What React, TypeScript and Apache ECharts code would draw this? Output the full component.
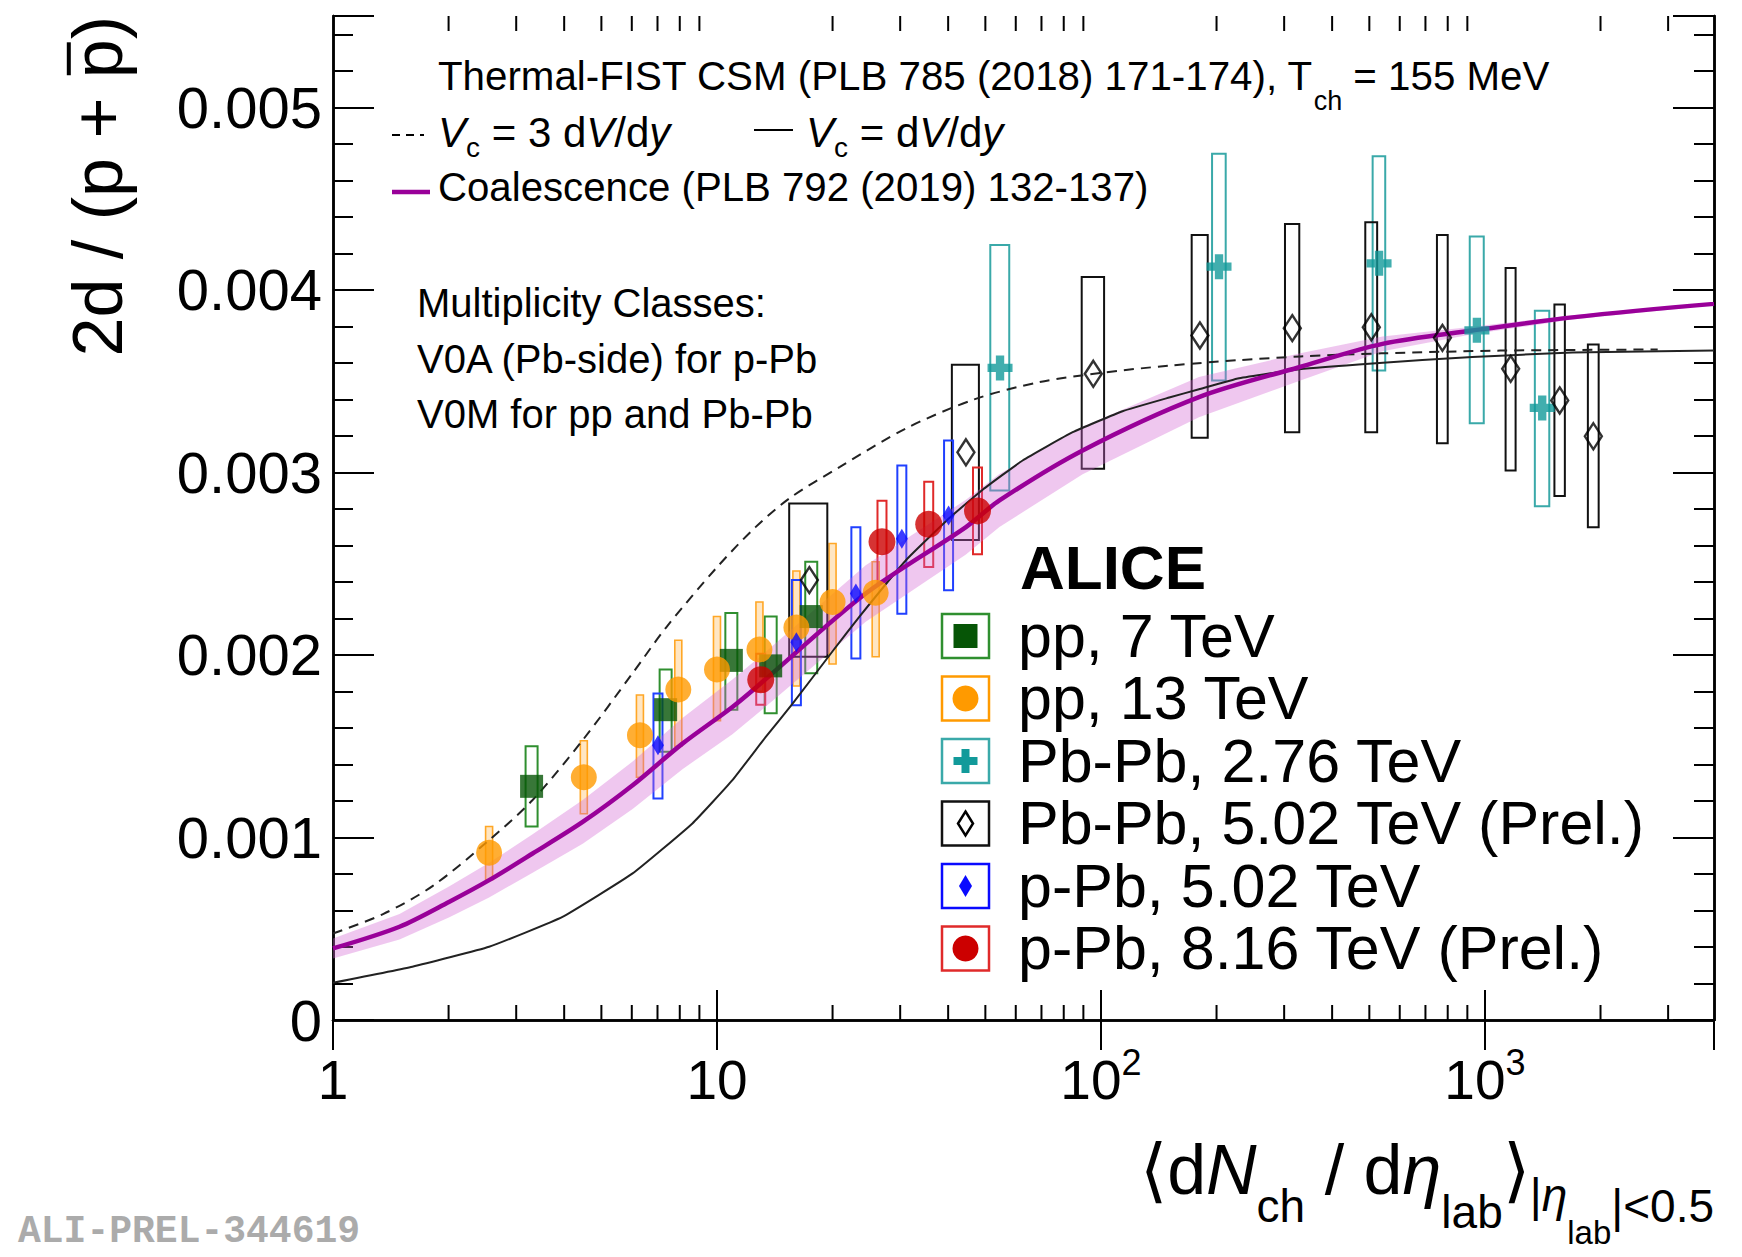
import React, { useEffect, useRef } from 'react';
import * as echarts from 'echarts';

const FONT = 'Liberation Sans, Arial, Helvetica, sans-serif';
const MONO = 'Liberation Mono, Courier New, monospace';

// ---------------- axis ticks ----------------
const xMinorTicks = [2, 3, 4, 5, 6, 7, 8, 9, 20, 30, 40, 50, 60, 70, 80, 90, 200, 300, 400, 500, 600, 700, 800, 900, 2000, 3000];

// ---------------- data: pp 7 TeV ----------------
const pp7X = [3.29, 7.35, 10.9, 13.8, 17.6];
const pp7Y = [0.00128, 0.0017, 0.00197, 0.00194, 0.00221];
const pp7Lo = [0.00106, 0.00147, 0.0017, 0.00168, 0.0019];
const pp7Hi = [0.0015, 0.00192, 0.00223, 0.00221, 0.00251];

// ---------------- data: pp 13 TeV ----------------
const pp13X = [2.55, 4.5, 6.3, 7.93, 10.0, 12.9, 16.1, 20.0, 25.9];
const pp13Y = [0.000916, 0.00133, 0.00156, 0.00181, 0.00192, 0.00203, 0.00215, 0.00229, 0.00234];
const pp13Lo = [0.000768, 0.00113, 0.00133, 0.0015, 0.00164, 0.0018, 0.00183, 0.00195, 0.00199];
const pp13Hi = [0.00106, 0.00153, 0.00178, 0.00208, 0.00221, 0.00229, 0.00246, 0.00261, 0.00251];

// ---------------- data: Pb-Pb 2.76 TeV ----------------
const pbpb276X = [54.6, 203, 530, 953, 1410];
const pbpb276XErr = [3.1, 8.3, 20, 40, 61];
const pbpb276Y = [0.003572, 0.004127, 0.004145, 0.003778, 0.003353];
const pbpb276Lo = [0.002901, 0.003503, 0.003558, 0.003269, 0.002815];
const pbpb276Hi = [0.004246, 0.004746, 0.004732, 0.004292, 0.003886];

// ---------------- data: Pb-Pb 5.02 TeV (Prel.) ----------------
const pbpb502X = [17.4, 44.5, 95.5, 181, 315, 506, 775, 1167, 1566, 1916];
const pbpb502XErr = [1.98, 3.6, 6.4, 8.7, 13.5, 18, 25, 35, 49, 62];
const pbpb502Y = [0.00241, 0.00311, 0.00354, 0.00375, 0.00379, 0.003795, 0.003737, 0.003567, 0.003394, 0.003198];
const pbpb502Lo = [0.00199, 0.00263, 0.00302, 0.00319, 0.00322, 0.00322, 0.00316, 0.00301, 0.00287, 0.0027];
const pbpb502Hi = [0.00283, 0.00359, 0.00407, 0.0043, 0.00436, 0.00437, 0.0043, 0.00412, 0.00392, 0.0037];

// ---------------- data: p-Pb 5.02 TeV ----------------
const ppb502X = [7.02, 16.1, 23.0, 30.3, 40.1];
const ppb502Y = [0.001505, 0.00207, 0.002336, 0.002636, 0.002764];
const ppb502Lo = [0.001213, 0.001724, 0.00198, 0.002226, 0.002354];
const ppb502Hi = [0.001788, 0.00241, 0.0027, 0.003038, 0.003175];

// ---------------- data: p-Pb 8.16 TeV (Prel.) ----------------
const ppb816X = [13.0, 26.9, 35.6, 47.7];
const ppb816Y = [0.001864, 0.00262, 0.002716, 0.002789];
const ppb816Lo = [0.001727, 0.002398, 0.002482, 0.002552];
const ppb816Hi = [0.002007, 0.002845, 0.002948, 0.003027];

// ---------------- models ----------------
const csmSolidX = [1, 1.61, 2.55, 3.96, 6.03, 8.63, 10.97, 13.4, 15.7, 20.0, 23.5, 31.1, 40.3, 49.2, 62.5, 84.4, 113.8, 150.6, 180, 229, 328, 509, 927, 1689, 3950];
const csmSolidY = [0.000204, 0.000292, 0.000401, 0.000565, 0.000803, 0.001077, 0.001314, 0.001551, 0.00173, 0.00202, 0.00221, 0.00252, 0.00275, 0.002905, 0.003065, 0.00322, 0.003335, 0.00341, 0.003455, 0.003515, 0.003565, 0.003597, 0.003632, 0.003656, 0.003667];

const csmDashX = [1, 1.35, 1.82, 2.55, 3.31, 4.47, 6.03, 7.37, 10, 12.6, 15.5, 20.9, 31, 46.8, 69, 100, 151, 229, 331, 537, 1096, 2818];
const csmDashY = [0.000474, 0.00058, 0.000735, 0.000985, 0.001205, 0.001533, 0.0019, 0.00215, 0.00248, 0.0027, 0.00286, 0.00303, 0.00324, 0.0034, 0.003494, 0.003545, 0.003585, 0.003615, 0.003635, 0.003652, 0.003667, 0.003673];

const coalX = [1, 1.49, 2.01, 2.55, 3.31, 4.47, 6.03, 8.13, 10.97, 13.1, 24.4, 44.5, 54.4, 89.6, 180, 328, 541, 927, 1689, 3950];
const coalY = [0.000392, 0.000511, 0.000648, 0.000766, 0.000912, 0.001085, 0.001286, 0.001514, 0.001715, 0.00185, 0.002336, 0.0027, 0.002846, 0.00312, 0.003412, 0.003576, 0.003704, 0.003777, 0.003849, 0.003923];
const coalLow = [0.000337, 0.000441, 0.000563, 0.000671, 0.000807, 0.000965, 0.001156, 0.001374, 0.001565, 0.0017, 0.002181, 0.00255, 0.002701, 0.00299, 0.003302, 0.003501, 0.003664, 0.003757, 0.003837, 0.003915];
const coalHigh = [0.000447, 0.000581, 0.000733, 0.000861, 0.001017, 0.001205, 0.001416, 0.001654, 0.001865, 0.002, 0.002491, 0.00285, 0.002991, 0.00325, 0.003522, 0.003651, 0.003744, 0.003797, 0.003861, 0.003931];

// ---------------- labels ----------------
const legendLabels = ['pp, 7 TeV', 'pp, 13 TeV', 'Pb-Pb, 2.76 TeV', 'Pb-Pb, 5.02 TeV (Prel.)', 'p-Pb, 5.02 TeV', 'p-Pb, 8.16 TeV (Prel.)'];
const classLines = ['Multiplicity Classes:', 'V0A (Pb-side) for p-Pb', 'V0M for pp and Pb-Pb'];

// ---------------- text helpers ----------------
let measureCtx: CanvasRenderingContext2D | null = null;
function fontStr(size: number, italic?: boolean, bold?: boolean, family: string = FONT) {
  return `${italic ? 'italic ' : ''}${bold ? 'bold ' : ''}${size}px ${family}`;
}
function tw(text: string, size: number, italic?: boolean, bold?: boolean, family: string = FONT) {
  if (!measureCtx) measureCtx = document.createElement('canvas').getContext('2d');
  measureCtx!.font = fontStr(size, italic, bold, family);
  return measureCtx!.measureText(text).width;
}
type Piece = { t: string; s: number; it?: boolean; b?: boolean; dy?: number };
function textEl(x: number, baseline: number, text: string, size: number, italic?: boolean, bold?: boolean, family: string = FONT, fill = '#000', align = 'left') {
  return {
    type: 'text', x, y: baseline - 0.35 * size, silent: true, z: 100,
    style: { text, font: fontStr(size, italic, bold, family), fill, textAlign: align, textVerticalAlign: 'middle', align, verticalAlign: 'middle' },
  };
}
function pieces(ps: Piece[], x: number, base: number, align: 'left' | 'right' = 'left') {
  const widths = ps.map((p) => tw(p.t, p.s, p.it, p.b));
  const total = widths.reduce((a, b) => a + b, 0);
  let cx = align === 'left' ? x : x - total;
  const out: any[] = [];
  ps.forEach((p, i) => {
    out.push(textEl(cx, base + (p.dy || 0), p.t, p.s, p.it, p.b));
    cx += widths[i];
  });
  return out;
}

// ---------------- series builders ----------------
function boxSeries(rows: number[][], stroke: string, fill: string, lw: number, pxW: number | null) {
  return {
    type: 'custom', coordinateSystem: 'cartesian2d', xAxisIndex: 0, yAxisIndex: 0, z: 2, silent: true,
    encode: { x: 0, y: 1 },
    data: rows,
    renderItem: (params: any, api: any) => {
      const x = api.value(0), lo = api.value(2), hi = api.value(3);
      const top = api.coord([x, hi]);
      const bot = api.coord([x, lo]);
      let x0: number, x1: number;
      if (pxW == null) {
        const xe = api.value(4);
        x0 = api.coord([x - xe, hi])[0];
        x1 = api.coord([x + xe, hi])[0];
      } else {
        x0 = top[0] - pxW / 2;
        x1 = top[0] + pxW / 2;
      }
      return { type: 'rect', shape: { x: x0, y: top[1], width: x1 - x0, height: bot[1] - top[1] }, style: { fill, stroke, lineWidth: lw } };
    },
  };
}
function markerSeries(xs: number[], ys: number[], symbol: string, size: any, itemStyle: any, z = 10) {
  return {
    type: 'scatter', xAxisIndex: 0, yAxisIndex: 0, z, silent: true,
    data: xs.map((x, i) => [x, ys[i]]),
    symbol, symbolSize: size, itemStyle,
  };
}
const CROSS = 'path://M3,0H6V3H9V6H6V9H3V6H0V3H3Z';

const GREEN_M = '#065506', GREEN_B = '#2f8f2f';
const ORANGE = '#ff9a00';
const TEAL_M = '#129a9a', TEAL_B = '#3aa9a9';
const BLUE = '#0a0aff';
const RED_M = '#cc0000', RED_B = '#e02a2a';
const PURPLE = '#990099';

function buildOption() {
  const yTitleSize = 70;
  const yTitleText = '2d / (p + p)';
  const wParen = tw(')', yTitleSize);
  const wP = tw('p', yTitleSize);

  const graphic: any[] = [];

  // y-axis title (rotated)
  graphic.push({
    type: 'group', x: 122, y: 16, rotation: Math.PI / 2, silent: true,
    children: [
      { type: 'text', x: 0, y: -0.35 * yTitleSize, style: { text: yTitleText, font: fontStr(yTitleSize), fill: '#000', textAlign: 'right', align: 'right', textVerticalAlign: 'middle', verticalAlign: 'middle' } },
      { type: 'line', shape: { x1: -wParen - wP + 3, y1: -0.76 * yTitleSize, x2: -wParen - 3, y2: -0.76 * yTitleSize }, style: { stroke: '#000', lineWidth: 4 } },
    ],
  });

  // x-axis title
  graphic.push(...pieces([
    { t: '\u27E8d', s: 70 },
    { t: 'N', s: 70, it: true },
    { t: 'ch', s: 46, dy: 28 },
    { t: ' / d', s: 70 },
    { t: '\u03B7', s: 70, it: true },
    { t: 'lab', s: 46, dy: 34 },
    { t: '\u27E9', s: 70 },
    { t: '|', s: 46, dy: 17 },
    { t: '\u03B7', s: 46, it: true, dy: 17 },
    { t: 'lab', s: 33, dy: 50 },
    { t: '|<0.5', s: 46, dy: 28 },
  ], 1714, 1194, 'right'));

  // top-left model legend
  graphic.push(...pieces([
    { t: 'Thermal-FIST CSM (PLB 785 (2018) 171-174), T', s: 40.3 },
    { t: 'ch', s: 27, dy: 19 },
    { t: ' = 155 MeV', s: 40.3 },
  ], 438, 91));
  graphic.push({ type: 'line', silent: true, shape: { x1: 392, y1: 135, x2: 424, y2: 135 }, style: { stroke: '#000', lineWidth: 2, lineDash: [8, 6] } });
  graphic.push(...pieces([
    { t: 'V', s: 42, it: true },
    { t: 'c', s: 28, dy: 10 },
    { t: ' = 3 d', s: 42 },
    { t: 'V', s: 42, it: true },
    { t: '/d', s: 42 },
    { t: 'y', s: 42, it: true },
  ], 438, 147));
  graphic.push({ type: 'line', silent: true, shape: { x1: 754, y1: 130, x2: 793, y2: 130 }, style: { stroke: '#000', lineWidth: 2 } });
  graphic.push(...pieces([
    { t: 'V', s: 42, it: true },
    { t: 'c', s: 28, dy: 10 },
    { t: ' = d', s: 42 },
    { t: 'V', s: 42, it: true },
    { t: '/d', s: 42 },
    { t: 'y', s: 42, it: true },
  ], 806, 147));
  graphic.push({ type: 'line', silent: true, shape: { x1: 392, y1: 192, x2: 430, y2: 192 }, style: { stroke: PURPLE, lineWidth: 4.5 } });
  graphic.push(textEl(438, 202, 'Coalescence (PLB 792 (2019) 132-137)', 40.2));

  // multiplicity classes
  classLines.forEach((t, i) => graphic.push(textEl(417, 317 + i * 55.7, t, 40)));

  // ALICE legend
  graphic.push(textEl(1020, 589, 'ALICE', 62, false, true));
  const rowY = [636, 698.5, 761, 823.5, 886, 948.5];
  const cx = 965.5;
  const boxColors = [GREEN_B, ORANGE, TEAL_B, '#111', BLUE, RED_B];
  rowY.forEach((cy, i) => {
    graphic.push({ type: 'rect', silent: true, z: 100, shape: { x: cx - 23.5, y: cy - 22, width: 47, height: 44 }, style: { fill: 'none', stroke: boxColors[i], lineWidth: 2.5 } });
    let m: any;
    if (i === 0) m = { type: 'rect', shape: { x: cx - 12, y: cy - 12, width: 24, height: 24 }, style: { fill: GREEN_M } };
    else if (i === 1) m = { type: 'circle', shape: { cx, cy, r: 13 }, style: { fill: ORANGE } };
    else if (i === 2) m = { type: 'polygon', shape: { points: [[cx - 4, cy - 12], [cx + 4, cy - 12], [cx + 4, cy - 4], [cx + 12, cy - 4], [cx + 12, cy + 4], [cx + 4, cy + 4], [cx + 4, cy + 12], [cx - 4, cy + 12], [cx - 4, cy + 4], [cx - 12, cy + 4], [cx - 12, cy - 4], [cx - 4, cy - 4]] }, style: { fill: TEAL_M } };
    else if (i === 3) m = { type: 'polygon', shape: { points: [[cx, cy - 12], [cx + 7.5, cy], [cx, cy + 12], [cx - 7.5, cy]] }, style: { fill: 'none', stroke: '#000', lineWidth: 2.5 } };
    else if (i === 4) m = { type: 'polygon', shape: { points: [[cx, cy - 11], [cx + 6.5, cy], [cx, cy + 11], [cx - 6.5, cy]] }, style: { fill: BLUE } };
    else m = { type: 'circle', shape: { cx, cy, r: 13 }, style: { fill: RED_M } };
    m.silent = true; m.z = 101;
    graphic.push(m);
    graphic.push(textEl(1018, cy + 21, legendLabels[i], 61));
  });

  // watermark
  graphic.push(textEl(18, 1245, 'ALI-PREL-344619', 38, false, true, MONO, '#ababab'));

  const axisLineStyle = { color: '#000', width: 2.5 };
  const tickStyle = { color: '#000', width: 2 };

  const xAxisBase = {
    type: 'log', logBase: 10, min: 1, max: 3950, splitLine: { show: false }, minorTick: { show: false },
    axisLine: { show: true, lineStyle: axisLineStyle },
    axisTick: { show: true, inside: true, length: 30, lineStyle: tickStyle },
  };
  const yAxisBase = {
    type: 'value', min: 0, max: 0.0055, splitLine: { show: false },
    axisLine: { show: true, lineStyle: axisLineStyle },
  };

  return {
    animation: false,
    backgroundColor: '#ffffff',
    grid: { left: 333, top: 16, width: 1381, height: 1004 },
    xAxis: [
      {
        ...xAxisBase, position: 'bottom',
        axisLabel: {
          show: true, margin: 24, color: '#000', fontFamily: FONT, fontSize: 55, showMaxLabel: false,
          formatter: (v: number) => {
            const e = Math.round(Math.log10(v));
            if (e === 0) return '{n|1}';
            if (e === 1) return '{n|10}';
            return `{n|10}{s|${e}}`;
          },
          rich: {
            n: { fontSize: 55, fontFamily: FONT, color: '#000', lineHeight: 72 },
            s: { fontSize: 36, fontFamily: FONT, color: '#000', verticalAlign: 'top' },
          },
        },
      },
      { ...xAxisBase, position: 'top', axisLabel: { show: false } },
    ],
    yAxis: [
      {
        ...yAxisBase, position: 'left', interval: 0.001,
        axisTick: { show: true, inside: true, length: 41, lineStyle: tickStyle },
        axisLabel: {
          show: true, margin: 11, color: '#000', fontFamily: FONT, fontSize: 58,
          formatter: (v: number) => (v > 0.00505 ? '' : v === 0 ? '0' : v.toFixed(3)),
        },
      },
      { ...yAxisBase, position: 'left', interval: 0.0002, axisTick: { show: true, inside: true, length: 20, lineStyle: tickStyle }, axisLabel: { show: false } },
      { ...yAxisBase, position: 'right', interval: 0.001, axisTick: { show: true, inside: true, length: 41, lineStyle: tickStyle }, axisLabel: { show: false } },
      { ...yAxisBase, position: 'right', interval: 0.0002, axisTick: { show: true, inside: true, length: 20, lineStyle: tickStyle }, axisLabel: { show: false } },
    ],
    series: [
      // minor log ticks on bottom and top
      {
        type: 'custom', coordinateSystem: 'cartesian2d', xAxisIndex: 0, yAxisIndex: 0, z: 20, silent: true,
        encode: { x: 0, y: 1 },
        data: xMinorTicks.map((v) => [v, 0]),
        renderItem: (params: any, api: any) => {
          const p = api.coord([api.value(0), 0]);
          const cs = params.coordSys;
          const yb = cs.y + cs.height;
          return {
            type: 'group', children: [
              { type: 'line', shape: { x1: p[0], y1: yb, x2: p[0], y2: yb - 15 }, style: { stroke: '#000', lineWidth: 2 } },
              { type: 'line', shape: { x1: p[0], y1: cs.y, x2: p[0], y2: cs.y + 15 }, style: { stroke: '#000', lineWidth: 2 } },
            ],
          };
        },
      },
      // coalescence band
      {
        type: 'custom', coordinateSystem: 'cartesian2d', xAxisIndex: 0, yAxisIndex: 0, z: 3, silent: true,
        encode: { x: 0, y: [1, 2] },
        data: coalX.map((x, i) => [x, coalLow[i], coalHigh[i]]),
        renderItem: (params: any, api: any) => {
          if (params.dataIndex !== 0) return { type: 'group', children: [] };
          const up = coalX.map((x, i) => api.coord([x, coalHigh[i]]));
          const dn = coalX.map((x, i) => api.coord([x, coalLow[i]])).reverse();
          return { type: 'polygon', shape: { points: up.concat(dn) }, style: { fill: 'rgba(210, 100, 210, 0.36)' } };
        },
      },
      // boxes (systematics)
      boxSeries(pp7X.map((x, i) => [x, pp7Y[i], pp7Lo[i], pp7Hi[i]]), GREEN_B, 'none', 2, 12),
      boxSeries(pp13X.map((x, i) => [x, pp13Y[i], pp13Lo[i], pp13Hi[i]]), '#ffa726', 'rgba(255,165,40,0.28)', 1.6, 7),
      boxSeries(pbpb276X.map((x, i) => [x, pbpb276Y[i], pbpb276Lo[i], pbpb276Hi[i], pbpb276XErr[i]]), TEAL_B, 'none', 2, null),
      boxSeries(pbpb502X.map((x, i) => [x, pbpb502Y[i], pbpb502Lo[i], pbpb502Hi[i], pbpb502XErr[i]]), '#111', 'none', 2, null),
      boxSeries(ppb502X.map((x, i) => [x, ppb502Y[i], ppb502Lo[i], ppb502Hi[i]]), '#2040ff', 'none', 2, 9),
      boxSeries(ppb816X.map((x, i) => [x, ppb816Y[i], ppb816Lo[i], ppb816Hi[i]]), RED_B, 'none', 2, 9),
      // model curves
      {
        type: 'line', xAxisIndex: 0, yAxisIndex: 0, z: 5, silent: true, symbol: 'none', smooth: 0.3,
        data: csmDashX.map((x, i) => [x, csmDashY[i]]),
        lineStyle: { color: '#222', width: 2, type: [10, 7] },
      },
      {
        type: 'line', xAxisIndex: 0, yAxisIndex: 0, z: 5, silent: true, symbol: 'none', smooth: 0.12,
        data: csmSolidX.map((x, i) => [x, csmSolidY[i]]),
        lineStyle: { color: '#222', width: 2 },
      },
      {
        type: 'line', xAxisIndex: 0, yAxisIndex: 0, z: 6, silent: true, symbol: 'none', smooth: 0.3,
        data: coalX.map((x, i) => [x, coalY[i]]),
        lineStyle: { color: PURPLE, width: 4.5 },
      },
      // markers
      markerSeries(pp7X, pp7Y, 'rect', 23, { color: GREEN_M }),
      markerSeries(pp13X, pp13Y, 'circle', 26, { color: ORANGE }),
      markerSeries(pbpb276X, pbpb276Y, CROSS, 25, { color: TEAL_M }),
      markerSeries(pbpb502X, pbpb502Y, 'diamond', [17, 26], { color: 'rgba(255,255,255,0)', borderColor: '#000', borderWidth: 2.5 }),
      markerSeries(ppb502X, ppb502Y, 'diamond', [12, 20], { color: BLUE }),
      markerSeries(ppb816X, ppb816Y, 'circle', 27, { color: RED_M }),
    ],
    graphic,
  };
}

export default function App() {
  const ref = useRef<HTMLDivElement>(null);
  useEffect(() => {
    const chart = echarts.init(ref.current!, null, { renderer: 'svg' });
    chart.setOption(buildOption() as any);
    return () => chart.dispose();
  }, []);
  return <div ref={ref} style={{ position: 'fixed', left: 0, top: 0, width: 1742, height: 1257, background: '#fff' }} />;
}
